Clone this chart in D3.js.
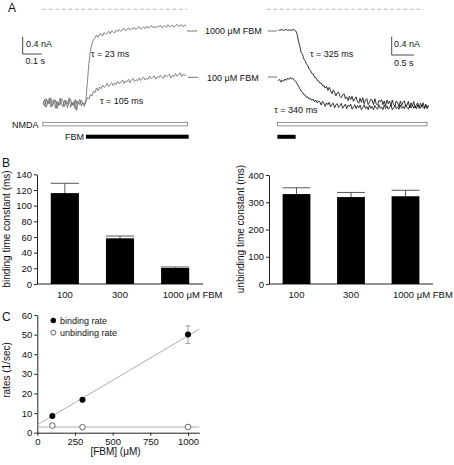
<!DOCTYPE html>
<html><head><meta charset="utf-8">
<script src="https://cdn.jsdelivr.net/npm/d3@7"></script>
<style>
body{margin:0;background:#fff}
svg{display:block}
text{font-family:"Liberation Sans",Arial,sans-serif;fill:#111}
</style>
</head><body>
<svg id="c" width="454" height="465"></svg>
<script>
// ---------- DATA ----------
// Panel A, left: FBM binding (current in nA, sampled every leftDt s)
const leftDt = 0.008;
const left1000 = [0.05,-0.08,0.10,-0.03,0.12,-0.10,0.02,0.08,-0.12,0.04,-0.06,0.11,-0.02,-0.09,0.07,0.00,-0.11,0.06,0.09,-0.05,0.03,-0.14,0.05,-0.02,0.08,-0.07,0.01,-0.04,
  0.06,0.48,0.92,1.20,1.37,1.46,1.50,
  1.57,1.52,1.59,1.60,1.55,1.63,1.59,1.61,1.66,1.60,
  1.67,1.64,1.62,1.69,1.65,1.70,1.66,1.68,1.73,1.67,
  1.70,1.74,1.69,1.72,1.71,1.75,1.70,1.74,1.77,1.71,
  1.74,1.76,1.72,1.78,1.73,1.75,1.79,1.74,1.77,1.73,
  1.78,1.76,1.80,1.74,1.77,1.79,1.75,1.81,1.76,1.78,
  1.80,1.75,1.79,1.82,1.77,1.79,1.81,1.76,1.80,1.78];
const left100 = [-0.04,0.09,-0.10,0.06,-0.02,0.11,-0.07,0.03,0.07,-0.13,0.02,-0.05,0.10,0.04,-0.08,0.06,-0.03,0.12,-0.10,0.01,-0.06,0.08,-0.17,0.03,-0.04,0.07,-0.02,-0.08,
  0.03,0.12,0.09,0.20,0.16,0.27,0.24,
  0.35,0.28,0.37,0.33,0.41,0.36,0.39,0.45,0.38,0.43,
  0.47,0.40,0.46,0.43,0.50,0.44,0.48,0.53,0.45,0.51,
  0.49,0.55,0.47,0.53,0.57,0.50,0.54,0.51,0.58,0.52,
  0.56,0.60,0.53,0.57,0.55,0.62,0.56,0.59,0.63,0.55,
  0.61,0.58,0.64,0.59,0.57,0.65,0.60,0.63,0.67,0.58,
  0.64,0.61,0.68,0.62,0.66,0.70,0.61,0.67,0.64,0.66];
// Panel A, right: FBM unbinding (current in nA, sampled every rightDt s)
const rightDt = 0.03;
const right1000 = [1.66,1.65,1.67,1.66,1.65,1.66,1.67,1.65,1.66,1.66,1.65,1.67,1.66,1.64,
  1.58,1.42,1.31,1.17,1.13,1.03,0.99,0.91,0.89,0.80,0.78,0.71,0.70,0.63,0.62,0.56,0.55,0.50,0.50,0.44,0.45,0.39,
  0.43,0.34,0.41,0.33,0.27,0.35,0.30,0.22,0.29,0.30,0.21,0.18,0.24,0.27,0.16,0.20,0.12,0.21,0.14,0.21,0.10,0.16,0.20,0.10,0.06,
  0.17,0.08,0.18,0.05,0.13,0.16,0.03,0.08,0.15,0.13,
  0.03,0.16,0.05,0.02,0.12,0.09,0.14,0.03,0.11,0.00,
  0.13,0.05,0.11,0.00,0.13,0.03,0.00,0.11,0.07,-0.02,
  0.11,0.01,0.08,0.11,-0.01,0.02,0.10,-0.04,0.07,0.00,
  0.10,-0.04,0.03,0.07,-0.05,0.06,-0.01,0.07,-0.04,0.04,
  -0.06,0.02];
const right100 = [0.55,0.58,0.52,0.57,0.54,0.59,0.56,0.61,0.58,0.62,0.59,0.60,0.56,0.54,
  0.48,0.44,0.38,0.33,0.30,0.25,0.24,0.19,0.20,0.15,0.17,0.12,0.15,0.09,0.13,0.07,0.11,
  0.09,0.02,0.10,0.06,-0.01,0.07,0.03,0.08,-0.02,0.04,
  0.06,-0.04,0.03,0.05,-0.03,0.01,0.06,-0.05,0.00,0.04,
  -0.06,0.02,-0.01,0.04,-0.07,-0.02,0.03,-0.06,0.01,-0.04,
  0.02,-0.08,-0.03,0.03,-0.06,-0.01,-0.08,0.02,-0.05,-0.01,
  -0.08,0.01,-0.04,-0.07,0.03,-0.05,-0.02,-0.08,0.02,-0.06,
  0.00,-0.07,-0.03,0.02,-0.08,-0.04,0.01,-0.06,-0.02,-0.07,
  0.02,-0.05,-0.01,-0.06,0.03,-0.03,-0.07,0.01,-0.04,0.02,
  -0.05,0.00,-0.06,0.03,-0.02,-0.05,0.02,-0.03,-0.06,0.01,
  -0.03,0.00];
const leftOnset = 0.219;   // s, FBM application
const rightOffset = 0.41;  // s, FBM removal

// Panel B
const concLabels = ["100", "300", "1000"];
const bindTau = [116, 58.3, 20.4];
const bindTauErr = [12.5, 2.9, 1.3];
const unbindTau = [330, 319, 322];
const unbindTauErr = [23, 17, 22];
const bindTicks = [0, 20, 40, 60, 80, 100, 120, 140];
const unbindTicks = [0, 100, 200, 300, 400];

// Panel C
const rateConc = [100, 300, 1000];
const bindingRate = [8.5, 16.8, 50];
const bindingRateErr = [0, 0, 4.5];
const unbindingRate = [3.6, 2.8, 2.9];
const fitConc = [0, 1075];
const bindingFit = [4.0, 52.8];
const unbindingFit = [2.9, 2.9];
const concTicks = [0, 250, 500, 750, 1000];
const rateTicks = [0, 10, 20, 30, 40, 50, 60];

// ---------- DRAW ----------
const svg = d3.select("#c");
const FONT = 9;

function label(x, y, t, opt = {}) {
  return svg.append("text").attr("x", x).attr("y", y).text(t)
    .attr("font-size", opt.size || FONT)
    .attr("text-anchor", opt.anchor || "start");
}

// panel letters
label(8, 12, "A", {size: 12});
label(2, 167, "B", {size: 12});
label(2, 321, "C", {size: 12});

// ===== Panel A left =====
const xL = d3.scaleLinear().domain([0, 1]).range([43.3, 233.3]);
const yL = d3.scaleLinear().domain([0, 1]).range([103, 59.75]);
const lineL = d3.line().x((d, i) => xL(i * leftDt)).y(d => yL(d));
svg.append("path").attr("d", lineL(left100)).attr("fill", "none").attr("stroke", "#666").attr("stroke-width", 0.8);
svg.append("path").attr("d", lineL(left1000)).attr("fill", "none").attr("stroke", "#666").attr("stroke-width", 0.8);

const leftEnd = (left1000.length - 1) * leftDt;
svg.append("line").attr("x1", xL(0) - 1).attr("x2", xL(leftEnd) + 1).attr("y1", 9.3).attr("y2", 9.3)
  .attr("stroke", "#aaa").attr("stroke-width", 0.8).attr("stroke-dasharray", "4,2.5");
{
  const sx = 22.7, sy = 54;
  const h = yL(0) - yL(0.4), w = xL(0.1) - xL(0);
  svg.append("path").attr("d", `M${sx},${sy - h}V${sy}H${sx + w}`).attr("fill", "none").attr("stroke", "#333").attr("stroke-width", 0.9);
  label(26, 46.5, "0.4 nA");
  label(25.5, 64, "0.1 s");
}
label(91, 56.5, "τ = 23 ms");
label(100, 104, "τ = 105 ms");
label(12, 127.5, "NMDA");
svg.append("rect").attr("x", xL(0) - 0.5).attr("y", 122.3).attr("width", xL(leftEnd) - xL(0) + 2).attr("height", 3.6)
  .attr("fill", "#fff").attr("stroke", "#777").attr("stroke-width", 0.8);
label(65, 140, "FBM");
svg.append("rect").attr("x", xL(leftOnset) + 1).attr("y", 134.7).attr("width", xL(leftEnd) - xL(leftOnset) + 1.5).attr("height", 4)
  .attr("fill", "#000");

function leader(x1, x2, y) {
  svg.append("line").attr("x1", x1).attr("x2", x2).attr("y1", y).attr("y2", y).attr("stroke", "#555").attr("stroke-width", 0.8);
}
leader(187, 197, 31);
leader(188, 198, 77.3);
leader(267.7, 277, 31);
leader(267.7, 277, 77);
label(205, 34.3, "1000 μM FBM");
label(207, 80.6, "100 μM FBM");

// ===== Panel A right =====
const xR = d3.scaleLinear().domain([0, 1]).range([278.3, 323]);
const yR = d3.scaleLinear().domain([0, 1]).range([106, 60.2]);
const lineR = d3.line().x((d, i) => xR(i * rightDt)).y(d => yR(d));
svg.append("path").attr("d", lineR(right100)).attr("fill", "none").attr("stroke", "#111").attr("stroke-width", 0.85);
svg.append("path").attr("d", lineR(right1000)).attr("fill", "none").attr("stroke", "#111").attr("stroke-width", 0.85);
const rightEnd = (right1000.length - 1) * rightDt;
svg.append("line").attr("x1", xR(0) - 11.6).attr("x2", xR(rightEnd) - 5).attr("y1", 9.3).attr("y2", 9.3)
  .attr("stroke", "#aaa").attr("stroke-width", 0.8).attr("stroke-dasharray", "4,2.5");
{
  const sx = 391.7, sy = 55;
  const h = yR(0) - yR(0.4), w = xR(0.5) - xR(0);
  svg.append("path").attr("d", `M${sx},${sy - h}V${sy}H${sx + w}`).attr("fill", "none").attr("stroke", "#333").attr("stroke-width", 0.9);
  label(394, 46.5, "0.4 nA");
  label(394, 65.5, "0.5 s");
}
label(310, 57, "τ = 325 ms");
label(274.3, 112.5, "τ = 340 ms");
svg.append("rect").attr("x", xR(0) - 1).attr("y", 122.3).attr("width", xR(rightEnd) - xR(0) - 0.5).attr("height", 3.6)
  .attr("fill", "#fff").attr("stroke", "#777").attr("stroke-width", 0.8);
svg.append("rect").attr("x", xR(0) - 1).attr("y", 134.8).attr("width", xR(rightOffset) - xR(0)).attr("height", 4)
  .attr("fill", "#000");

// ===== Panel B =====
function barPanel(x0, x1, yTop, yMax, ticks, values, errs, title, titleX) {
  const y = d3.scaleLinear().domain([0, yMax]).range([284, yTop]);
  const x = d3.scaleBand().domain(concLabels).range([x0, x1]).paddingInner(0.49).paddingOuter(0.25);
  const g = svg.append("g");
  const ax = g.append("g").attr("transform", `translate(${x0},0)`)
    .call(d3.axisLeft(y).tickValues(ticks).tickSize(3).tickSizeOuter(0).tickPadding(2));
  ax.selectAll("text").attr("font-size", 9.5).attr("font-family", "Liberation Sans, Arial, sans-serif").attr("fill", "#111");
  ax.selectAll("line,path").attr("stroke", "#222");
  g.append("line").attr("x1", x0).attr("x2", x1).attr("y1", 284).attr("y2", 284).attr("stroke", "#222");
  const rows = concLabels.map((c, i) => ({c, v: values[i], e: errs[i]}));
  g.selectAll(".err").data(rows).enter().append("path")
    .attr("d", d => `M${x(d.c) + x.bandwidth() / 2},${y(d.v)}V${y(d.v + d.e)}M${x(d.c)},${y(d.v + d.e)}H${x(d.c) + x.bandwidth()}`)
    .attr("stroke", "#444").attr("stroke-width", 0.9).attr("fill", "none");
  g.selectAll(".bar").data(rows).enter().append("rect")
    .attr("x", d => x(d.c)).attr("width", x.bandwidth())
    .attr("y", d => y(d.v)).attr("height", d => y(0) - y(d.v)).attr("fill", "#000");
  rows.forEach((d, i) => {
    const cx = x(d.c) + x.bandwidth() / 2;
    if (i < 2) label(cx, 298, d.c, {anchor: "middle", size: 9.5});
    else label(cx - 12.5, 298, d.c + " μM FBM", {size: 9.5});
  });
  svg.append("text").attr("transform", `translate(${titleX},${229}) rotate(-90)`)
    .attr("text-anchor", "middle").attr("font-size", 10).text(title);
}
barPanel(37, 203, 174.3, 140, bindTicks, bindTau, bindTauErr, "binding time constant (ms)", 10);
barPanel(269, 433, 175, 400, unbindTicks, unbindTau, unbindTauErr, "unbinding time constant (ms)", 244);

// ===== Panel C =====
{
  const x = d3.scaleLinear().domain([0, 1075]).range([37.3, 199.3]);
  const y = d3.scaleLinear().domain([0, 60]).range([432.7, 315]);
  const ax = svg.append("g").attr("transform", `translate(0,${y(0)})`)
    .call(d3.axisBottom(x).tickValues(concTicks).tickFormat(d3.format("d")).tickSize(3).tickSizeOuter(0).tickPadding(3));
  const ay = svg.append("g").attr("transform", `translate(${x(0)},0)`)
    .call(d3.axisLeft(y).tickValues(rateTicks).tickSize(3).tickSizeOuter(0).tickPadding(2));
  [ax, ay].forEach(a => {
    a.selectAll("text").attr("font-size", 9.5).attr("font-family", "Liberation Sans, Arial, sans-serif").attr("fill", "#111");
    a.selectAll("line,path").attr("stroke", "#222");
  });
  const fitLine = d3.line().x(d => x(d[0])).y(d => y(d[1]));
  svg.append("path").attr("d", fitLine(fitConc.map((c, i) => [c, bindingFit[i]])))
    .attr("stroke", "#999").attr("stroke-width", 0.8).attr("fill", "none");
  svg.append("path").attr("d", fitLine(fitConc.map((c, i) => [c, unbindingFit[i]])))
    .attr("stroke", "#999").attr("stroke-width", 0.8).attr("fill", "none");
  const br = rateConc.map((c, i) => ({c, v: bindingRate[i], e: bindingRateErr[i]}));
  svg.selectAll(".eb").data(br.filter(d => d.e > 0)).enter().append("path")
    .attr("d", d => `M${x(d.c)},${y(d.v - d.e)}V${y(d.v + d.e)}M${x(d.c) - 2.5},${y(d.v - d.e)}h5M${x(d.c) - 2.5},${y(d.v + d.e)}h5`)
    .attr("stroke", "#888").attr("stroke-width", 0.8).attr("fill", "none");
  svg.selectAll(".ub").data(rateConc.map((c, i) => ({c, v: unbindingRate[i]}))).enter().append("circle")
    .attr("cx", d => x(d.c)).attr("cy", d => y(d.v)).attr("r", 2.8)
    .attr("fill", "#fff").attr("stroke", "#444").attr("stroke-width", 0.8);
  svg.selectAll(".bd").data(br).enter().append("circle")
    .attr("cx", d => x(d.c)).attr("cy", d => y(d.v)).attr("r", 3)
    .attr("fill", "#000");
  svg.append("circle").attr("cx", 53.3).attr("cy", 320.5).attr("r", 2.7).attr("fill", "#000");
  label(60, 324, "binding rate");
  svg.append("circle").attr("cx", 53.3).attr("cy", 332.7).attr("r", 2.5).attr("fill", "#fff").attr("stroke", "#444").attr("stroke-width", 0.8);
  label(60, 336.3, "unbinding rate");
  svg.append("text").attr("transform", `translate(10,370) rotate(-90)`)
    .attr("text-anchor", "middle").attr("font-size", 10).text("rates (1/sec)");
  label(115.5, 455, "[FBM] (μM)", {anchor: "middle", size: 10});
}
</script>
</body></html>
